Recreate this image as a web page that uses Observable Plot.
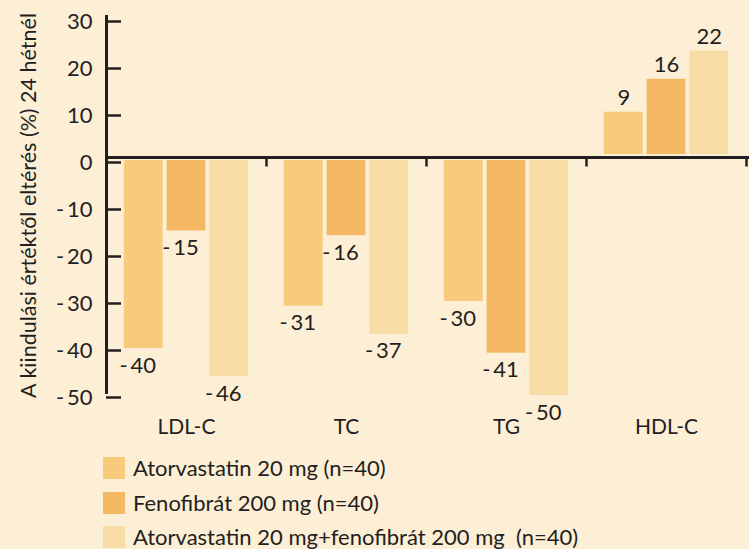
<!DOCTYPE html>
<html><head><meta charset="utf-8">
<script src="https://cdn.jsdelivr.net/npm/d3@7"></script>
<script src="https://cdn.jsdelivr.net/npm/@observablehq/plot@0.6"></script>
<style>
html,body{margin:0;padding:0;background:#fdeed6;}
body{width:749px;height:549px;overflow:hidden;font-family:Lato,"DejaVu Sans",sans-serif;color:#231f20;position:relative;}
#chart svg{display:block;}
#legend{position:absolute;left:103px;top:451px;}
.row{display:flex;align-items:center;height:34.5px;}
.sw{width:22px;height:22px;margin-right:8px;}
.lab{font-size:22px;line-height:22px;white-space:pre;}
</style></head><body>
<div id="chart"></div>
<div id="legend"></div>
<script>
const categories = ["LDL-C", "TC", "TG", "HDL-C"];
const series = ["Atorvastatin 20 mg (n=40)", "Fenofibrát 200 mg (n=40)", "Atorvastatin 20 mg+fenofibrát 200 mg  (n=40)"];
const atorvastatin = [-40, -31, -30, 9];
const fenofibrat = [-15, -16, -41, 16];
const combination = [-46, -37, -50, 22];
const colors = ["#f7cb7b", "#f5b963", "#f7dca5"];
const yTicks = [30, 20, 10, 0, -10, -20, -30, -40, -50];
const yTitle = "A kiindulási értéktől eltérés (%) 24 hétnél";

const seriesValues = [atorvastatin, fenofibrat, combination];
const data = categories.flatMap((c, i) => seriesValues.map((vals, j) => ({category: c, series: series[j], value: vals[i]})));
const neg = data.filter(d => d.value < 0);
const pos = data.filter(d => d.value > 0);
const ink = "#231f20";
const font = "Lato, 'DejaVu Sans', sans-serif";
const fmt = v => v < 0 ? "-\u2009" + Math.abs(v) : String(v);
const tickDown = {draw(context) { context.moveTo(0, 0); context.lineTo(0, 9); }};

const chart = Plot.plot({
  width: 749, height: 445,
  marginTop: 16, marginBottom: 53, marginLeft: 105, marginRight: 3,
  style: {background: "transparent", fontFamily: font, color: ink, overflow: "visible"},
  fx: {domain: categories, padding: 0, axis: null},
  x: {domain: series, paddingInner: 0.093, paddingOuter: 0.418, round: false, axis: null},
  y: {domain: [-50, 30], axis: null},
  color: {domain: series, range: colors},
  marks: [
    Plot.barY(neg, {fx: "category", x: "series", y: "value", fill: "series", dy: 3}),
    Plot.barY(pos, {fx: "category", x: "series", y: "value", fill: "series", dy: -3}),
    Plot.ruleY([0], {stroke: ink, strokeWidth: 3, insetRight: -3}),
    Plot.dot([0], {y: d => d, frameAnchor: "right", symbol: tickDown, stroke: ink, strokeWidth: 2.5}),
    Plot.frame({anchor: "left", facetAnchor: "left", stroke: ink, strokeWidth: 3}),
    Plot.text(neg, {fx: "category", x: "series", y: "value", text: d => fmt(d.value), dy: 20, dx: -6, fontSize: 22, fill: ink}),
    Plot.text(pos, {fx: "category", x: "series", y: "value", text: d => fmt(d.value), dy: -17, fontSize: 22, fill: ink}),
    Plot.text(categories, {fx: d => d, text: d => d, frameAnchor: "bottom", dy: 41, fontSize: 21, fill: ink}),
    Plot.axisY({ticks: yTicks, tickSize: -15, tickPadding: 29, strokeWidth: 2.5, tickFormat: fmt, fontSize: 22, dy: 5, fill: ink, stroke: ink, label: null}),
    Plot.text([yTitle], {text: d => d, frameAnchor: "left", facetAnchor: "left", textAnchor: "middle", rotate: -90, dx: -77, dy: 1, fontSize: 21.5, fill: ink})
  ]
});
document.getElementById("chart").append(chart);

const legend = document.getElementById("legend");
series.forEach((s, i) => {
  const row = document.createElement("div");
  row.className = "row";
  const sw = document.createElement("div");
  sw.className = "sw";
  sw.style.background = colors[i];
  const lab = document.createElement("span");
  lab.className = "lab";
  lab.textContent = s;
  row.append(sw, lab);
  legend.append(row);
});
</script>
</body></html>
